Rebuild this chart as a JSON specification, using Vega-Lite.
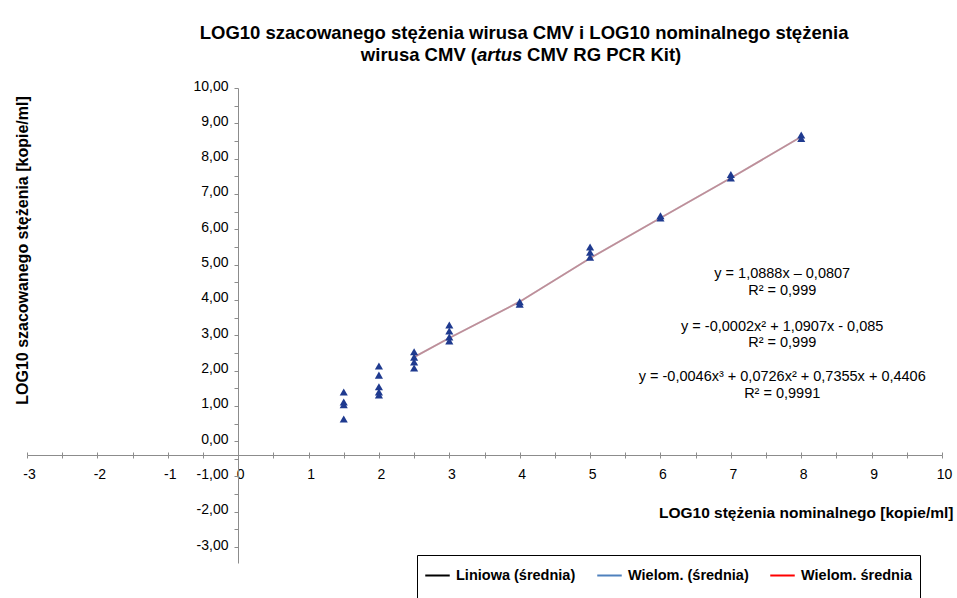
{
  "$schema": "https://vega.github.io/schema/vega-lite/v6.json",
  "width": 915,
  "height": 475,
  "autosize": "none",
  "padding": {"left": 27, "top": 88, "right": 15, "bottom": 35},
  "background": "white",
  "config": {"view": {"stroke": null}, "font": "Liberation Sans", "axis": {"grid": false}},
  "resolve": {"axis": {"x": "independent", "y": "independent"}},
  "datasets": {
    "points": [
      {"x": 1.5, "y": 1.39}, {"x": 1.5, "y": 1.11}, {"x": 1.5, "y": 1.03}, {"x": 1.5, "y": 0.63},
      {"x": 2, "y": 2.13}, {"x": 2, "y": 1.87}, {"x": 2, "y": 1.54}, {"x": 2, "y": 1.39}, {"x": 2, "y": 1.31},
      {"x": 2.5, "y": 2.53}, {"x": 2.5, "y": 2.38}, {"x": 2.5, "y": 2.24}, {"x": 2.5, "y": 2.07},
      {"x": 3, "y": 3.29}, {"x": 3, "y": 3.12}, {"x": 3, "y": 2.95}, {"x": 3, "y": 2.84},
      {"x": 4, "y": 3.95}, {"x": 4, "y": 3.88},
      {"x": 5, "y": 5.5}, {"x": 5, "y": 5.35}, {"x": 5, "y": 5.21},
      {"x": 6, "y": 6.38}, {"x": 6, "y": 6.32},
      {"x": 7, "y": 7.55}, {"x": 7, "y": 7.45},
      {"x": 8, "y": 8.67}, {"x": 8, "y": 8.57}
    ],
    "trend": [
      {"series": "Liniowa (średnia)", "x": 2.5, "y": 2.38},
      {"series": "Liniowa (średnia)", "x": 3, "y": 2.92},
      {"series": "Liniowa (średnia)", "x": 4, "y": 3.95},
      {"series": "Liniowa (średnia)", "x": 5, "y": 5.18},
      {"series": "Liniowa (średnia)", "x": 6, "y": 6.32},
      {"series": "Liniowa (średnia)", "x": 7, "y": 7.45},
      {"series": "Liniowa (średnia)", "x": 8, "y": 8.62},
      {"series": "Wielom. (średnia)", "x": 2.5, "y": 2.38},
      {"series": "Wielom. (średnia)", "x": 3, "y": 2.92},
      {"series": "Wielom. (średnia)", "x": 4, "y": 3.95},
      {"series": "Wielom. (średnia)", "x": 5, "y": 5.18},
      {"series": "Wielom. (średnia)", "x": 6, "y": 6.32},
      {"series": "Wielom. (średnia)", "x": 7, "y": 7.45},
      {"series": "Wielom. (średnia)", "x": 8, "y": 8.62},
      {"series": "Wielom. średnia", "x": 2.5, "y": 2.38},
      {"series": "Wielom. średnia", "x": 3, "y": 2.92},
      {"series": "Wielom. średnia", "x": 4, "y": 3.95},
      {"series": "Wielom. średnia", "x": 5, "y": 5.18},
      {"series": "Wielom. średnia", "x": 6, "y": 6.32},
      {"series": "Wielom. średnia", "x": 7, "y": 7.45},
      {"series": "Wielom. średnia", "x": 8, "y": 8.62}
    ],
    "one": [{}]
  },
  "layer": [
    {
      "data": {"name": "trend"},
      "mark": {"type": "line", "strokeWidth": 1.8, "strokeOpacity": 0.22},
      "encoding": {
        "x": {"field": "x", "type": "quantitative", "scale": {"domain": [-3, 10], "nice": false, "zero": false},
          "axis": {"orient": "top", "offset": -367, "values": [-3,-2.5,-2,-1.5,-1,-0.5,0,0.5,1,1.5,2,2.5,3,3.5,4,4.5,5,5.5,6,6.5,7,7.5,8,8.5,9,9.5,10], "labels": false, "domain": false, "ticks": true, "tickSize": 3, "tickColor": "#8c8c8c", "title": null, "grid": false}},
        "y": {"field": "y", "type": "quantitative", "scale": {"domain": [-3.45, 10], "nice": false, "zero": false}, "axis": null},
        "color": {"field": "series", "type": "nominal",
          "scale": {"domain": ["Liniowa (średnia)", "Wielom. (średnia)", "Wielom. średnia"], "range": ["#000000", "#4f81bd", "#ff0000"]},
          "legend": {"orient": "none", "legendX": 390, "legendY": 467, "direction": "horizontal", "title": " ", "titleOrient": "bottom", "titlePadding": 14, "titleFontSize": 12,
            "symbolType": "stroke", "symbolSize": 600, "symbolStrokeWidth": 2, "symbolOpacity": 1,
            "labelFontSize": 14.5, "labelFontWeight": "bold", "labelFont": "Liberation Sans", "labelColor": "#000000", "labelLimit": 300, "labelOffset": 5,
            "strokeColor": "#000000", "fillColor": "#ffffff", "padding": 7, "columnPadding": 17}}
      }
    },
    {
      "data": {"name": "points"},
      "mark": {"type": "point", "shape": "triangle-up", "filled": true, "size": 66, "color": "#1f3a8f", "opacity": 1},
      "encoding": {
        "x": {"field": "x", "type": "quantitative", "scale": {"domain": [-3, 10], "nice": false, "zero": false},
          "axis": {"orient": "bottom", "offset": -108, "values": [-3,-2.5,-2,-1.5,-1,-0.5,0,0.5,1,1.5,2,2.5,3,3.5,4,4.5,5,5.5,6,6.5,7,7.5,8,8.5,9,9.5,10],
            "labelExpr": "datum.value % 1 == 0 ? '' + datum.value : ''", "labelFlush": false, "labelOverlap": false, "labelOffset": 2,
            "tickSize": 3, "tickColor": "#8c8c8c", "domainColor": "#8c8c8c", "labelFontSize": 14, "labelColor": "#000000", "labelPadding": 9, "labelFont": "Liberation Sans",
            "title": "LOG10 stężenia nominalnego [kopie/ml]", "titleFontSize": 15.5, "titleFontWeight": "bold", "titleColor": "#000000", "titleFont": "Liberation Sans",
            "titleAlign": "right", "titleBaseline": "middle", "titleX": 926, "titleY": 57, "grid": false}},
        "y": {"field": "y", "type": "quantitative", "scale": {"domain": [-3.45, 10], "nice": false, "zero": false},
          "axis": {"orient": "left", "offset": -211, "values": [-3,-2.5,-2,-1.5,-1,-0.5,0,0.5,1,1.5,2,2.5,3,3.5,4,4.5,5,5.5,6,6.5,7,7.5,8,8.5,9,9.5,10],
            "labelExpr": "datum.value % 1 == 0 ? (datum.value < 0 ? '-' : '') + replace(format(abs(datum.value), '.2f'), '.', ',') : ''",
            "labelFlush": false, "labelOverlap": false, "labelOffset": -2,
            "tickSize": 4, "tickColor": "#8c8c8c", "domainColor": "#8c8c8c", "labelFontSize": 14, "labelColor": "#000000", "labelPadding": 6, "labelFont": "Liberation Sans",
            "title": "LOG10 szacowanego stężenia [kopie/ml]", "titleFontSize": 16, "titleFontWeight": "bold", "titleColor": "#000000", "titleFont": "Liberation Sans",
            "titleAngle": -90, "titleAlign": "center", "titleBaseline": "middle", "titleX": -216, "titleY": 162, "grid": false}}
      }
    },
    {
      "data": {"name": "one"},
      "mark": {"type": "text", "text": "LOG10 szacowanego stężenia wirusa CMV i LOG10 nominalnego stężenia", "fontSize": 18.5, "fontWeight": "bold", "align": "center", "baseline": "middle", "color": "#000000"},
      "encoding": {
        "x": {"datum": 4.062, "type": "quantitative", "scale": {"domain": [-3, 10], "nice": false, "zero": false}, "axis": null},
        "y": {"datum": 11.56, "type": "quantitative", "scale": {"domain": [-3.45, 10], "nice": false, "zero": false}, "axis": null}
      }
    },
    {
      "data": {"name": "one"},
      "mark": {"type": "text", "text": "wirusa CMV (", "fontSize": 18.5, "fontWeight": "bold", "align": "right", "baseline": "middle", "color": "#000000"},
      "encoding": {
        "x": {"datum": 3.394, "type": "quantitative", "scale": {"domain": [-3, 10], "nice": false, "zero": false}, "axis": null},
        "y": {"datum": 10.93, "type": "quantitative", "scale": {"domain": [-3.45, 10], "nice": false, "zero": false}, "axis": null}
      }
    },
    {
      "data": {"name": "one"},
      "mark": {"type": "text", "text": "artus", "fontSize": 18.5, "fontWeight": "bold", "fontStyle": "italic", "align": "left", "baseline": "middle", "color": "#000000"},
      "encoding": {
        "x": {"datum": 3.394, "type": "quantitative", "scale": {"domain": [-3, 10], "nice": false, "zero": false}, "axis": null},
        "y": {"datum": 10.93, "type": "quantitative", "scale": {"domain": [-3.45, 10], "nice": false, "zero": false}, "axis": null}
      }
    },
    {
      "data": {"name": "one"},
      "mark": {"type": "text", "text": "CMV RG PCR Kit)", "fontSize": 18.5, "fontWeight": "bold", "align": "left", "baseline": "middle", "dx": 50, "color": "#000000"},
      "encoding": {
        "x": {"datum": 3.394, "type": "quantitative", "scale": {"domain": [-3, 10], "nice": false, "zero": false}, "axis": null},
        "y": {"datum": 10.93, "type": "quantitative", "scale": {"domain": [-3.45, 10], "nice": false, "zero": false}, "axis": null}
      }
    },
    {
      "data": {"name": "one"},
      "mark": {"type": "text", "text": ["y = 1,0888x – 0,0807", "R² = 0,999"], "fontSize": 14.5, "lineHeight": 17, "align": "center", "baseline": "middle", "color": "#000000"},
      "encoding": {
        "x": {"datum": 7.73, "type": "quantitative", "scale": {"domain": [-3, 10], "nice": false, "zero": false}, "axis": null},
        "y": {"datum": 4.74, "type": "quantitative", "scale": {"domain": [-3.45, 10], "nice": false, "zero": false}, "axis": null}
      }
    },
    {
      "data": {"name": "one"},
      "mark": {"type": "text", "text": ["y = -0,0002x² + 1,0907x - 0,085", "R² = 0,999"], "fontSize": 14.5, "lineHeight": 16, "align": "center", "baseline": "middle", "color": "#000000"},
      "encoding": {
        "x": {"datum": 7.73, "type": "quantitative", "scale": {"domain": [-3, 10], "nice": false, "zero": false}, "axis": null},
        "y": {"datum": 3.24, "type": "quantitative", "scale": {"domain": [-3.45, 10], "nice": false, "zero": false}, "axis": null}
      }
    },
    {
      "data": {"name": "one"},
      "mark": {"type": "text", "text": ["y = -0,0046x³ + 0,0726x² + 0,7355x + 0,4406", "R² = 0,9991"], "fontSize": 14.5, "lineHeight": 17, "align": "center", "baseline": "middle", "color": "#000000"},
      "encoding": {
        "x": {"datum": 7.73, "type": "quantitative", "scale": {"domain": [-3, 10], "nice": false, "zero": false}, "axis": null},
        "y": {"datum": 1.83, "type": "quantitative", "scale": {"domain": [-3.45, 10], "nice": false, "zero": false}, "axis": null}
      }
    }
  ]
}
